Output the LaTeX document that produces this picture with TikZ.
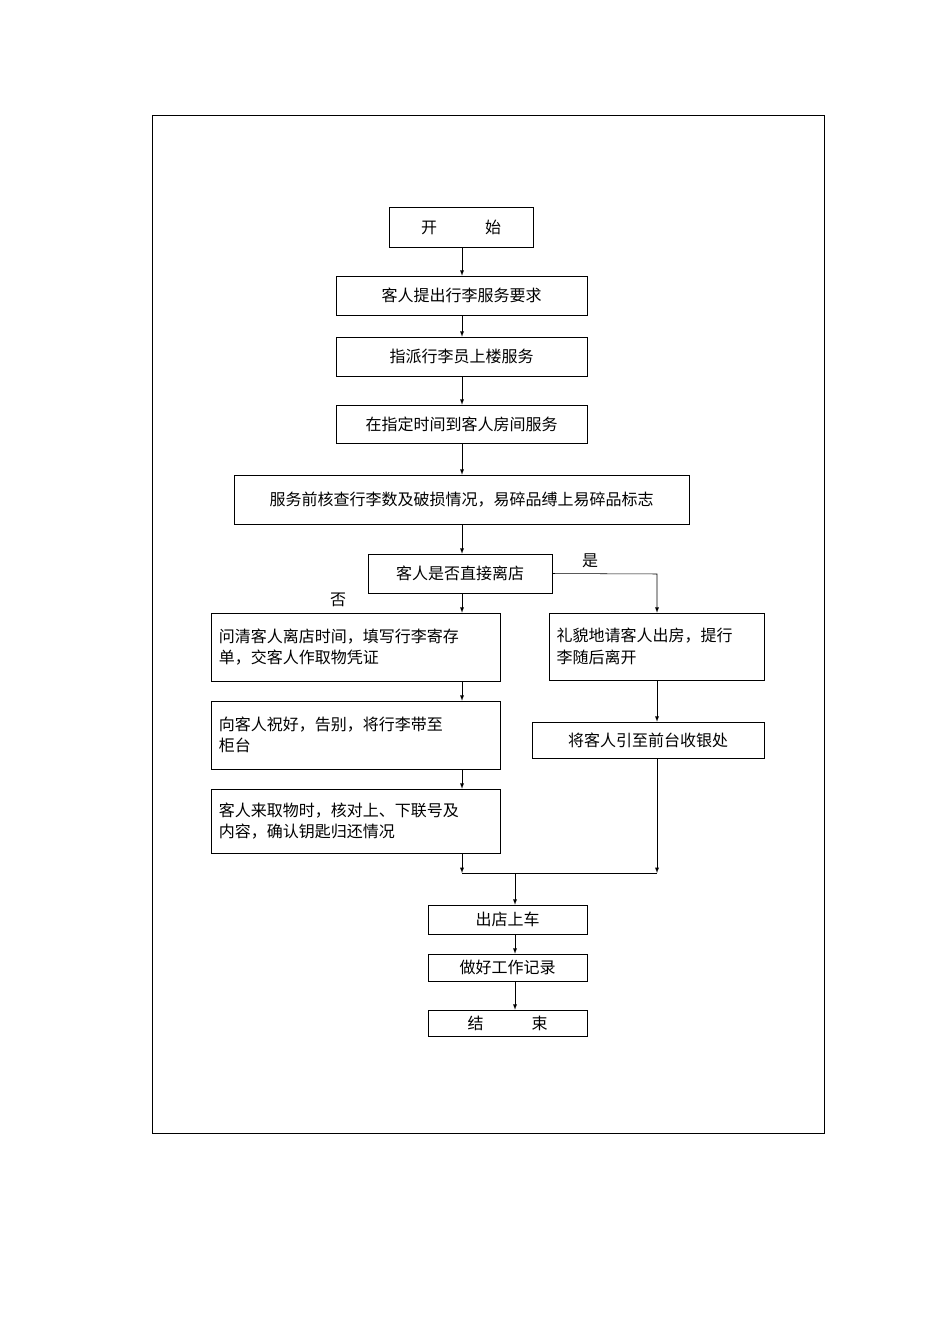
\documentclass[tikz,border=0pt]{standalone}
\usepackage{fontspec}
\setmainfont{Noto Sans CJK SC}
\begin{document}
\begin{tikzpicture}[x=0.75pt,y=0.75pt,yscale=-1,xscale=1,>=latex,
  box/.style={draw,inner sep=0.75pt,font=\fontsize{12}{16}\selectfont},
  tbox/.style={box,align=left,text width=205pt},
  flow/.style={->,thin}]
    \useasboundingbox (0,0) rectangle (950,1344);
    % frame
    \draw (152,115) rectangle (824,1133);

    % Boxes
    \node[box,minimum width=108pt,minimum height=30pt] (start) at (461,227) {开\hspace{3em}始};
    \node[box,minimum width=188.25pt,minimum height=29.25pt] (req) at (461.5,295.5) {客人提出行李服务要求};
    \node[box,minimum width=188.25pt,minimum height=29.25pt] (send) at (461.5,356.5) {指派行李员上楼服务};
    \node[box,minimum width=188.25pt,minimum height=28.5pt] (room) at (461.5,424) {在指定时间到客人房间服务};
    \node[box,minimum width=341.25pt,minimum height=36.75pt] (check) at (461.5,499.5) {服务前核查行李数及破损情况，易碎品缚上易碎品标志};
    \node[box,minimum width=138pt,minimum height=29.25pt] (leave) at (460,573.5) {客人是否直接离店};
    \node[tbox,minimum width=216.75pt,minimum height=51pt] (ask) at (355.5,647) {问清客人离店时间，填写行李寄存\\单，交客人作取物凭证};
    \node[tbox,minimum width=216.75pt,minimum height=51pt] (wish) at (355.5,735) {向客人祝好，告别，将行李带至\\柜台};
    \node[tbox,minimum width=216.75pt,minimum height=48pt] (fetch) at (355.5,821) {客人来取物时，核对上、下联号及\\内容，确认钥匙归还情况};
    \node[box,align=left,text width=150pt,minimum width=161.25pt,minimum height=50.25pt] (polite) at (656.5,646.5) {礼貌地请客人出房，提行\\李随后离开};
    \node[box,minimum width=174pt,minimum height=27pt] (desk) at (648,740) {将客人引至前台收银处};
    \node[box,minimum width=119.25pt,minimum height=21.75pt] (car) at (507.5,919.5) {出店上车};
    \node[box,minimum width=119.25pt,minimum height=20.25pt] (log) at (507.5,967.5) {做好工作记录};
    \node[box,minimum width=119.25pt,minimum height=19.5pt] (stop) at (507.5,1023) {结\hspace{3em}束};

    % Labels
    \node[font=\fontsize{12}{16}\selectfont] (no) at (338,600) {否};
    \node[font=\fontsize{12}{16}\selectfont] (yes) at (590,561) {是};

    % Junction
    \coordinate (jl) at (462,873);
    \coordinate (jr) at (657,873);
    \coordinate (jm) at (515,873);
    \coordinate (yr) at (657,574);

    % Connectors
    \draw[flow] (jl |- start.south) -- (jl |- req.north);
    \draw[flow] (jl |- req.south) -- (jl |- send.north);
    \draw[flow] (jl |- send.south) -- (jl |- room.north);
    \draw[flow] (jl |- room.south) -- (jl |- check.north);
    \draw[flow] (jl |- check.south) -- (jl |- leave.north);
    \draw[flow] (jl |- leave.south) -- (jl |- ask.north);
    \draw[flow] (jl |- ask.south) -- (jl |- wish.north);
    \draw[flow] (jl |- wish.south) -- (jl |- fetch.north);
    \draw[flow] (jl |- fetch.south) -- (jl);
    \draw[flow] (leave.east) -- (yr) -- (yr |- polite.north);
    \draw[flow] (yr |- polite.south) -- (yr |- desk.north);
    \draw[flow] (yr |- desk.south) -- (jr);
    \draw (jl) -- (jr);
    \draw[flow] (jm) -- (jm |- car.north);
    \draw[flow] (jm |- car.south) -- (jm |- log.north);
    \draw[flow] (jm |- log.south) -- (jm |- stop.north);
\end{tikzpicture}
\end{document}
